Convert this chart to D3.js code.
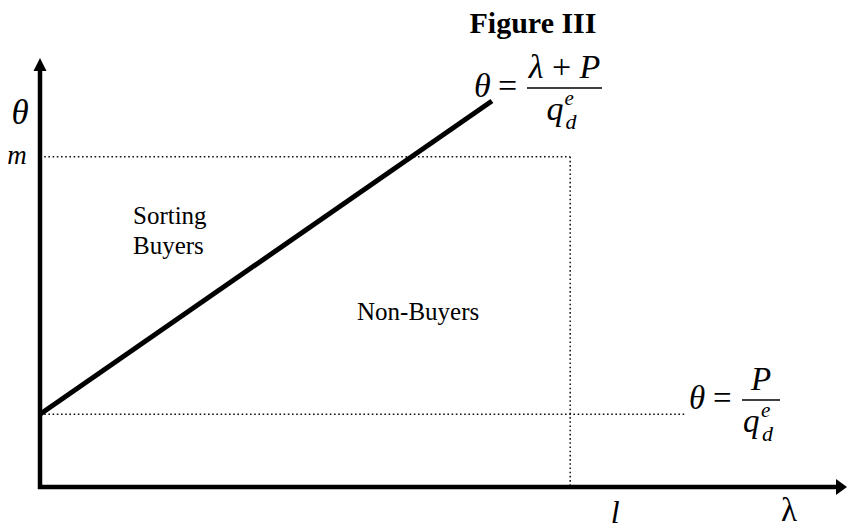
<!DOCTYPE html>
<html>
<head>
<meta charset="utf-8">
<script src="https://cdn.jsdelivr.net/npm/d3@7"></script>
<style>
  body { margin: 0; background: #fff; }
  svg text { font-family: "Liberation Serif", "Times New Roman", serif; fill: #000; }
</style>
</head>
<body>
<div id="chart"></div>
<script>
// model values (in axis units)
const priceP = 13.0;        // P
const qde = 7.67;           // q_d^e
const mLevel = 7.7;         // m on theta axis
const lLevel = 65.7;        // l on lambda axis
const lineLambda = [0, 56]; // extent of theta = (lambda + P) / q_d^e
const lowLineEnd = 80;      // end of dotted theta = P / q_d^e line

const width = 847, height = 529;

const svg = d3.select("#chart")
  .append("svg")
  .attr("width", width)
  .attr("height", height);

// scales
const x = d3.scaleLinear().domain([0, 100]).range([40, 847]);
const y = d3.scaleLinear().domain([0, 10]).range([487, 58]);

const thetaLow = priceP / qde;

// title
svg.append("text")
  .attr("x", 533).attr("y", 33)
  .attr("text-anchor", "middle")
  .style("font-size", "30px").style("font-weight", "bold")
  .text("Figure III");

// dotted guides
const dots = svg.append("g")
  .attr("stroke", "#111").attr("stroke-width", 1.5)
  .attr("stroke-dasharray", "1.6,2.6").attr("fill", "none");

dots.append("line")
  .attr("x1", x(0)).attr("x2", x(lLevel))
  .attr("y1", y(mLevel)).attr("y2", y(mLevel));
dots.append("line")
  .attr("x1", x(lLevel)).attr("x2", x(lLevel))
  .attr("y1", y(mLevel)).attr("y2", y(0));
dots.append("line")
  .attr("x1", x(0)).attr("x2", x(lowLineEnd))
  .attr("y1", y(thetaLow)).attr("y2", y(thetaLow));

// the sorting line
const line = d3.line()
  .x(d => x(d))
  .y(d => y((d + priceP) / qde));

svg.append("path")
  .datum(lineLambda)
  .attr("d", line)
  .attr("fill", "none")
  .attr("stroke", "#000")
  .attr("stroke-width", 5);

// axes
svg.append("line")
  .attr("x1", x(0)).attr("x2", x(0))
  .attr("y1", y(0) + 2).attr("y2", y(10) + 10)
  .attr("stroke", "#000").attr("stroke-width", 4.5);
svg.append("line")
  .attr("x1", x(0) - 2).attr("x2", x(100) - 8)
  .attr("y1", y(0)).attr("y2", y(0))
  .attr("stroke", "#000").attr("stroke-width", 4.5);

// arrow heads
svg.append("path")
  .attr("d", `M${x(0)},${y(10)} L${x(0) - 6.5},${y(10) + 13} L${x(0) + 6.5},${y(10) + 13} Z`)
  .attr("fill", "#000");
svg.append("path")
  .attr("d", `M${x(100)},${y(0)} L${x(100) - 11},${y(0) - 8} L${x(100) - 11},${y(0) + 8} Z`)
  .attr("fill", "#000");

// axis labels
svg.append("text")
  .attr("x", 20).attr("y", 124)
  .attr("text-anchor", "middle")
  .style("font-size", "35px").style("font-style", "italic")
  .text("θ");
svg.append("text")
  .attr("x", 17).attr("y", y(mLevel) + 7)
  .attr("text-anchor", "middle")
  .style("font-size", "27px").style("font-style", "italic")
  .text("m");
svg.append("text")
  .attr("x", x(lLevel) + 45).attr("y", 523)
  .attr("text-anchor", "middle")
  .style("font-size", "32px").style("font-style", "italic")
  .text("l");
svg.append("text")
  .attr("x", 789).attr("y", 521)
  .attr("text-anchor", "middle")
  .style("font-size", "33px")
  .text("λ");

// region labels
svg.append("text")
  .attr("x", 133).attr("y", 224)
  .style("font-size", "25px")
  .text("Sorting");
svg.append("text")
  .attr("x", 133).attr("y", 254)
  .style("font-size", "25px")
  .text("Buyers");
svg.append("text")
  .attr("x", 357).attr("y", 320)
  .style("font-size", "25px")
  .text("Non-Buyers");

// formula helper
function formula(g, num, barW, size) {
  g.append("text")
    .attr("x", 0).attr("y", 0)
    .style("font-size", size + "px").style("font-style", "italic")
    .text("θ");
  g.append("text")
    .attr("x", 24).attr("y", 0)
    .style("font-size", size + "px")
    .text("=");
  g.append("line")
    .attr("x1", 53).attr("x2", 53 + barW)
    .attr("y1", -9).attr("y2", -9)
    .attr("stroke", "#000").attr("stroke-width", 1.6);
  g.append("text")
    .attr("x", 53 + barW / 2).attr("y", -19)
    .attr("text-anchor", "middle")
    .style("font-size", size + "px")
    .html(num);
  const dx = 53 + barW / 2 - 18;
  g.append("text")
    .attr("x", dx).attr("y", 23)
    .style("font-size", size + "px").style("font-style", "italic")
    .text("q");
  g.append("text")
    .attr("x", dx + 18).attr("y", 8)
    .style("font-size", "21px").style("font-style", "italic")
    .text("e");
  g.append("text")
    .attr("x", dx + 19).attr("y", 32)
    .style("font-size", "22px").style("font-style", "italic")
    .text("d");
}

formula(svg.append("g").attr("transform", "translate(474,97)"),
  '<tspan font-style="italic">λ</tspan> + <tspan font-style="italic">P</tspan>', 75, 34);
formula(svg.append("g").attr("transform", "translate(689,409)"),
  '<tspan font-style="italic">P</tspan>', 38, 33);
</script>
</body>
</html>
